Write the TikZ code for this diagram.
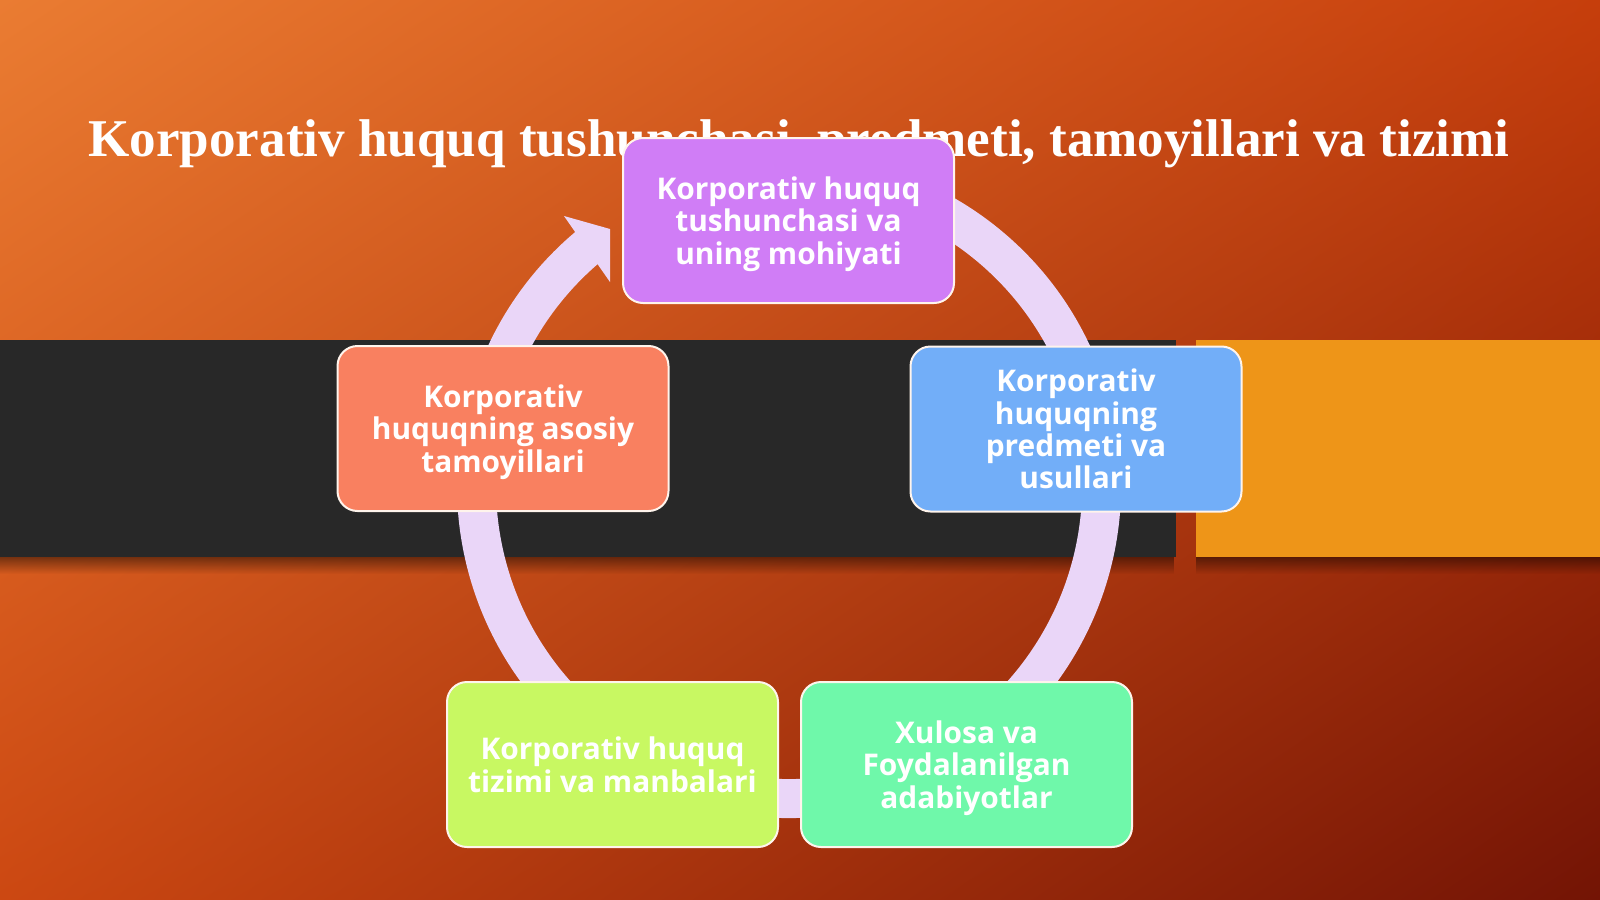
\documentclass[tikz,border=0pt]{standalone}
\usepackage{fontspec}
\setmainfont{Liberation Serif}
\newfontfamily\boxfont{Open Sans}
\usetikzlibrary{calc,fadings,shadings}
\definecolor{bgUL}{HTML}{EA7C32}
\definecolor{bgUR}{HTML}{C63E0C}
\definecolor{bgLL}{HTML}{CC4812}
\definecolor{bgLR}{HTML}{731405}
\definecolor{bandc}{HTML}{282828}
\definecolor{orangec}{HTML}{EE9518}
\definecolor{ringc}{HTML}{EAD6F8}
\definecolor{boxline}{HTML}{FFF4EC}
\definecolor{cPurple}{HTML}{D07DF6}
\definecolor{cBlue}{HTML}{72AEF8}
\definecolor{cGreen}{HTML}{6FF8AA}
\definecolor{cLime}{HTML}{C8F862}
\definecolor{cSalmon}{HTML}{F98060}
\tikzset{
  box/.style={rounded corners=20bp, draw=boxline, line width=2bp,
    minimum width=331bp, minimum height=165bp, text=white, align=center,
    text depth=0pt, font=\boxfont\bfseries\fontsize{30}{32.5}\selectfont},
  titlefont/.style={font=\bfseries\fontsize{53.3}{60}\selectfont},
  ringline/.style={draw=ringc, line width=39bp},
  shadowbar/.style={fill=black, opacity=0.45, path fading=south}
}
\begin{document}
\begin{tikzpicture}[x=1bp,y=-1bp, every node/.style={inner sep=0pt, outer sep=0pt}]
\useasboundingbox (0,0) rectangle (1600,899);
\shade[upper left=bgUL, upper right=bgUR, lower left=bgLL, lower right=bgLR] (0,0) rectangle (1600,899);
% bands
\fill[shadowbar] (0,557) rectangle (1176,574);
\fill[shadowbar] (1196,557) rectangle (1600,574);
\fill[bandc] (0,340) rectangle (1176,557);
\fill[orangec] (1196,340) rectangle (1600,557);
% title
\node[titlefont, text=white, anchor=base] (title) at (799,156) {Korporativ huquq tushunchasi, predmeti, tamoyillari va tizimi};
% continuous cycle arrow
\coordinate (c) at (789,486);
\draw[ringline] ($(c)+(-105:312.5)$) arc[start angle=-105, end angle=230, radius=312.5];
\coordinate (hw1) at (564,216);
\coordinate (htip) at (610,229);
\coordinate (hw2) at (610,282);
\fill[ringc] (hw1) -- (htip) -- (hw2) -- cycle;
% boxes
\node[box, fill=cPurple] (b1) at (788.5,220.5) {Korporativ huquq\\tushunchasi va\\uning mohiyati};
\node[box, fill=cBlue] (b2) at (1076,429) {Korporativ\\huquqning\\predmeti va\\usullari};
\node[box, fill=cGreen] (b3) at (966.5,764.5) {Xulosa va\\Foydalanilgan\\adabiyotlar};
\node[box, fill=cLime] (b4) at (612.5,764.5) {Korporativ huquq\\tizimi va manbalari};
\node[box, fill=cSalmon] (b5) at (503,428.5) {Korporativ\\huquqning asosiy\\tamoyillari};
\end{tikzpicture}
\end{document}
